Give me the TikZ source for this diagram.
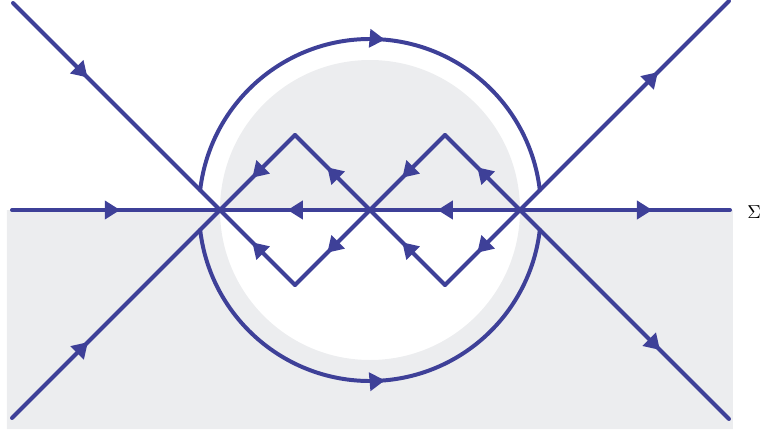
\documentclass[tikz,border=0pt]{standalone}
\usepackage{amsmath}
\usetikzlibrary{arrows.meta,decorations.markings}
\definecolor{lineblue}{RGB}{62,64,152}
\definecolor{bggray}{RGB}{236,237,239}
\tikzset{
  ray/.style={draw=lineblue,line width=3.4pt,line cap=round},
  flow/.style={postaction={decorate},decoration={markings,
    mark=at position #1 with {\arrow{Triangle[length=4.6mm,width=5.4mm]}}}},
  flow/.default=0.57
}

\begin{document}
\begin{tikzpicture}[x=0.3mm,y=0.3mm]
\useasboundingbox (-370,-219) rectangle (391,210);

% shaded region
\fill[bggray,even odd rule] (-363,-219) rectangle (363,0) (0,0) circle[radius=150];

% crossings and peaks
\coordinate (cl) at (-150,0);
\coordinate (cm) at (0,0);
\coordinate (cr) at (150,0);
\coordinate (ul) at (-75,75);
\coordinate (ur) at (75,75);
\coordinate (dl) at (-75,-75);
\coordinate (dr) at (75,-75);
\coordinate (inTop) at (-357,207);
\coordinate (inBot) at (-358,-208);
\coordinate (outTop) at (359,209);
\coordinate (outBot) at (359,-209);
\coordinate (hl) at (-358,0);
\coordinate (hr) at (360,0);
\coordinate (arcUL) at (173.34:171);
\coordinate (arcDL) at (186.66:171);

% incoming and outgoing rays
\draw[ray,flow=0.36] (inTop) -- (cl);
\draw[ray,flow=0.365] (inBot) -- (cl);
\draw[ray,flow=0.66] (cr) -- (outTop);
\draw[ray,flow=0.67] (cr) -- (outBot);

% horizontal line
\draw[ray,flow=0.52] (hl) -- (cl);
\draw[ray,flow=0.55] (cm) -- (cl);
\draw[ray,flow=0.55] (cr) -- (cm);
\draw[ray,flow=0.63] (cr) -- (hr);

% zigzags
\draw[ray,flow] (cm) -- (ul);
\draw[ray,flow] (ul) -- (cl);
\draw[ray,flow] (cr) -- (ur);
\draw[ray,flow] (ur) -- (cm);
\draw[ray,flow] (cm) -- (dl);
\draw[ray,flow] (dl) -- (cl);
\draw[ray,flow] (cr) -- (dr);
\draw[ray,flow] (dr) -- (cm);

% outer arcs
\draw[ray,flow=0.53] (arcUL) arc[start angle=173.34,end angle=6.66,radius=171];
\draw[ray,flow=0.53] (arcDL) arc[start angle=186.66,end angle=353.34,radius=171];

\node[anchor=west,inner sep=0pt,scale=1.6,transform shape] (sig) at (377,-2) {$\Sigma$};

\end{tikzpicture}
\end{document}
